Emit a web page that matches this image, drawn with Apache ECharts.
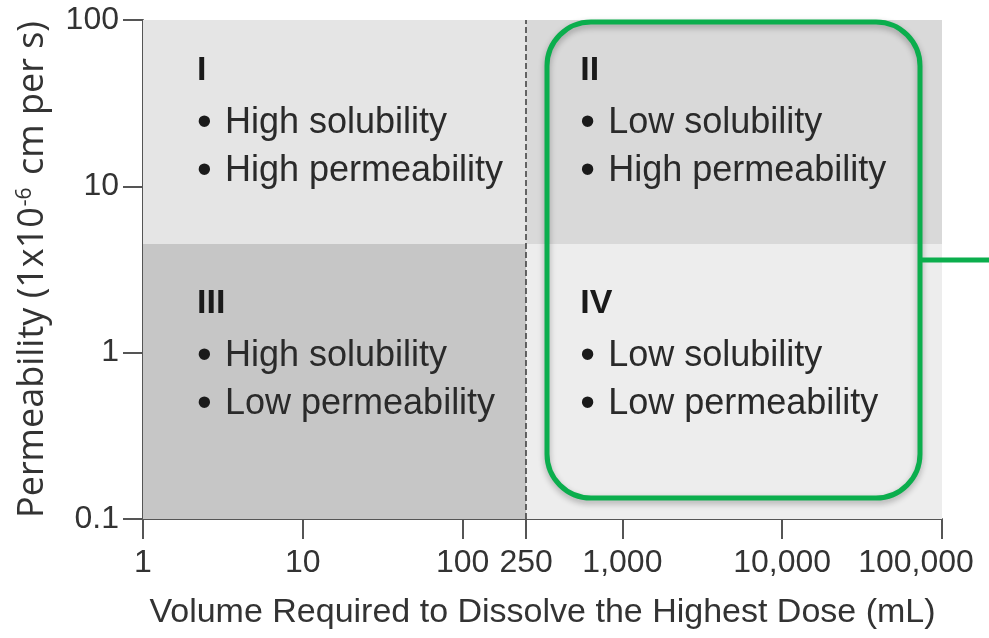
<!DOCTYPE html>
<html>
<head>
<meta charset="utf-8">
<script src="https://cdn.jsdelivr.net/npm/echarts@6/dist/echarts.min.js"></script>
<style>
  html, body { margin: 0; padding: 0; background: #fff; }
  #chart { width: 989px; height: 638px; }
</style>
</head>
<body>
<div id="chart"></div>
<script>
// BCS quadrants: volume (mL) on x, permeability on y, both log
const volumeEdges = [1, 250, 100000]
const permeabilityEdges = [0.1, 4.5, 100]
const classNames = ['I', 'II', 'III', 'IV']
const solubilityText = ['High solubility', 'Low solubility', 'High solubility', 'Low solubility']
const permeabilityText = ['High permeability', 'High permeability', 'Low permeability', 'Low permeability']
const xTickValues = [1, 10, 100, 250, 1000, 10000, 100000]
const yTickValues = [0.1, 1, 10, 100]
const doseVolumeLimit = 250

const FONT = 'Liberation Sans'
const AXIS_COLOR = '#555'
const TEXT_COLOR = '#2a2a2a'
const GREEN = '#0bae4d'
const fills = ['#e5e5e5', '#d9d9d9', '#c6c6c6', '#ededed']
const textTop = [23, 32]

// [x0, x1, y0, y1, index]
const quadrants = classNames.map((name, i) => {
  const col = i % 2
  const row = i < 2 ? 1 : 0
  return [volumeEdges[col], volumeEdges[col + 1], permeabilityEdges[row], permeabilityEdges[row + 1], i]
})

function fmtTick(v) {
  if (v < 1) return String(Math.round(v * 10) / 10)
  const s = Math.round(v).toLocaleString('en-US')
  // last label sits shifted left of its tick in the original
  return Math.round(v) === 100000 ? `{last|${s}}` : s
}

const chart = echarts.init(document.getElementById('chart'))

chart.setOption({
  animation: false,
  grid: { left: 143, right: 47, top: 20, bottom: 119, containLabel: false, outerBoundsMode: 'none' },
  xAxis: {
    type: 'log', logBase: 10, min: 1, max: 100000,
    name: 'Volume Required to Dissolve the Highest Dose (mL)',
    nameLocation: 'middle', nameGap: 94,
    nameTextStyle: { fontFamily: FONT, fontSize: 34, color: '#333', verticalAlign: 'middle' },
    axisLine: { lineStyle: { color: AXIS_COLOR, width: 2 } },
    axisTick: { length: 20, customValues: xTickValues, lineStyle: { color: AXIS_COLOR, width: 2 } },
    axisLabel: {
      customValues: xTickValues, formatter: fmtTick,
      fontFamily: FONT, fontSize: 32, color: '#333', margin: 28,
      rich: { last: { fontFamily: FONT, fontSize: 32, color: '#333', padding: [0, 52, 0, 0] } },
    },
    splitLine: { show: false },
    minorTick: { show: false },
  },
  yAxis: {
    type: 'log', logBase: 10, min: 0.1, max: 100,
    name: 'Permeability (1x10{sup|-6} cm per s)',
    nameLocation: 'middle', nameGap: 110,
    nameTextStyle: {
      fontFamily: 'Open Sans', fontSize: 36, color: '#333', verticalAlign: 'middle',
      rich: { sup: { fontFamily: 'Open Sans', fontSize: 21, color: '#333', verticalAlign: 'top', padding: [0, 3, 16, 1] } },
    },
    axisLine: { lineStyle: { color: AXIS_COLOR, width: 2 } },
    axisTick: { length: 20, customValues: yTickValues, lineStyle: { color: AXIS_COLOR, width: 2 } },
    axisLabel: { customValues: yTickValues, formatter: fmtTick, fontFamily: FONT, fontSize: 32, color: '#333', margin: 24 },
    splitLine: { show: false },
  },
  series: [
    {
      type: 'custom',
      silent: true,
      data: quadrants,
      encode: { x: [0, 1], y: [2, 3] },
      renderItem(params, api) {
        const i = api.value(4)
        const tl = api.coord([api.value(0), api.value(3)])
        const br = api.coord([api.value(1), api.value(2)])
        const row = i < 2 ? 0 : 1
        return {
          type: 'group',
          children: [
            {
              type: 'rect',
              shape: { x: tl[0], y: tl[1], width: br[0] - tl[0], height: br[1] - tl[1] },
              style: { fill: fills[i] },
            },
            {
              type: 'text',
              x: tl[0] + 54,
              y: tl[1] + textTop[row],
              style: {
                text: `{num|${classNames[i]}}\n{dot|•}{txt|${solubilityText[i]}}\n{dot|•}{txt|${permeabilityText[i]}}`,
                verticalAlign: 'top',
                align: 'left',
                fill: TEXT_COLOR,
                rich: {
                  num: { fontFamily: FONT, fontSize: 34, fontWeight: 'bold', lineHeight: 56, fill: '#1a1a1a' },
                  dot: { fontFamily: FONT, fontSize: 42, lineHeight: 48, width: 28, fill: '#1a1a1a' },
                  txt: { fontFamily: FONT, fontSize: 36, lineHeight: 48, fill: TEXT_COLOR },
                },
              },
            },
          ],
        }
      },
      z: 1,
    },
    {
      type: 'line',
      data: [],
      markLine: {
        silent: true,
        symbol: 'none',
        label: { show: false },
        lineStyle: { color: '#3a3a3a', type: [6, 3], width: 1.5 },
        data: [{ xAxis: doseVolumeLimit }],
      },
      z: 3,
    },
  ],
  graphic: [
    {
      type: 'rect', z: 100,
      shape: { x: 547, y: 22, width: 373, height: 476, r: 44 },
      style: { fill: 'none', stroke: GREEN, lineWidth: 5, shadowBlur: 6, shadowColor: 'rgba(0,0,0,0.3)', shadowOffsetY: 3 },
    },
    {
      type: 'line', z: 100,
      shape: { x1: 920, y1: 260, x2: 989, y2: 260 },
      style: { stroke: GREEN, lineWidth: 5 },
    },
  ],
})
</script>
</body>
</html>
